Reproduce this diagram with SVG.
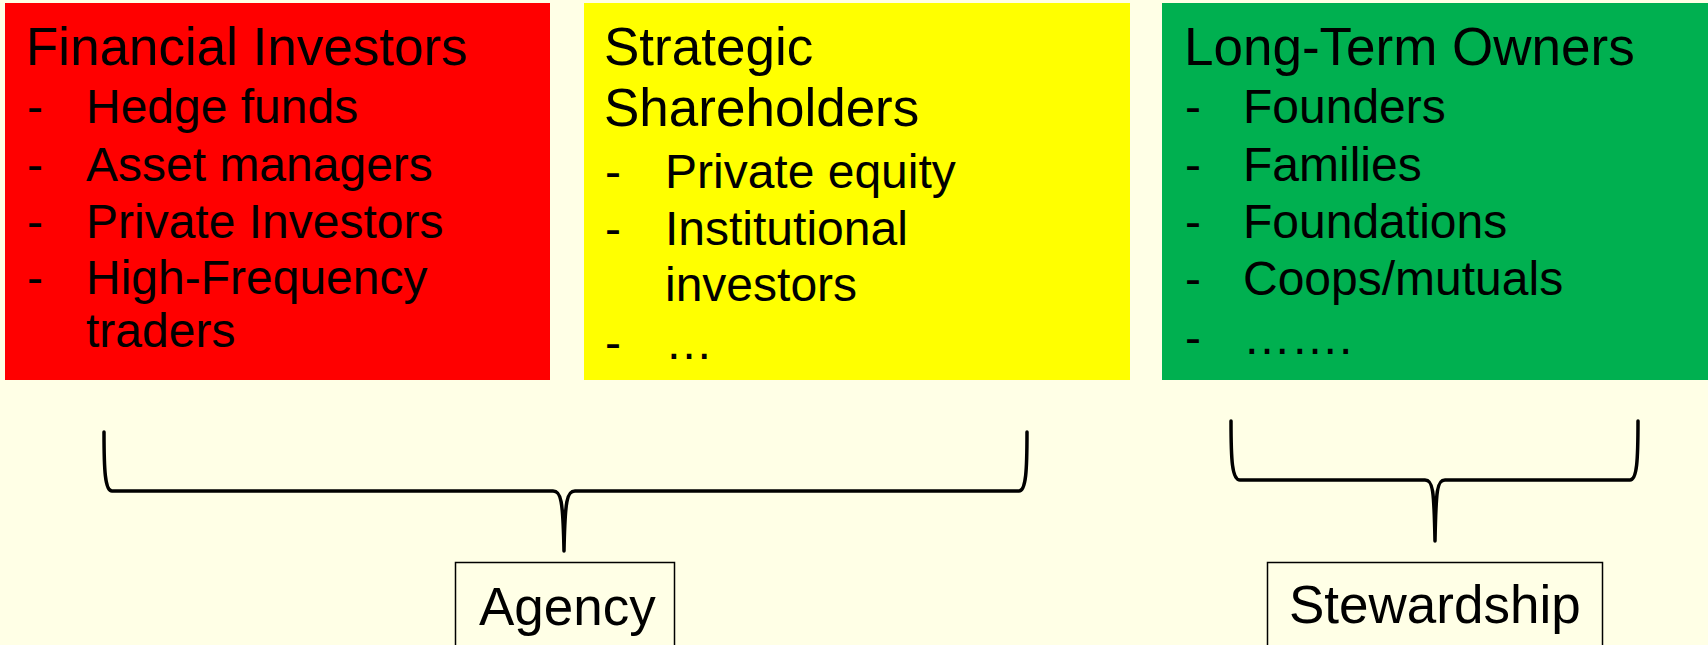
<svg xmlns="http://www.w3.org/2000/svg" width="1708" height="645" viewBox="0 0 1708 645">
  <style>
    text { font-family: "Liberation Sans", Arial, sans-serif; font-size: 53px; fill: #000; }
    text.item { font-size: 48px; }
    .brace { fill: none; stroke: #000; stroke-width: 3.5; stroke-linecap: round; stroke-linejoin: round; }
    .label { fill: none; stroke: #000; stroke-width: 1.5; }
  </style>
  <rect x="0" y="0" width="1708" height="645" fill="#FFFFE6"/>

  <g id="financial-investors">
    <rect x="5" y="3" width="545" height="377" fill="#FF0000"/>
    <text x="26" y="65">Financial Investors</text>
    <text class="item" x="27" y="123">-</text><text class="item" x="86" y="123">Hedge funds</text>
    <text class="item" x="27" y="181">-</text><text class="item" x="86" y="181">Asset managers</text>
    <text class="item" x="27" y="238">-</text><text class="item" x="86" y="238">Private Investors</text>
    <text class="item" x="27" y="294">-</text><text class="item" x="86" y="294">High-Frequency</text>
    <text class="item" x="86" y="347">traders</text>
  </g>

  <g id="strategic-shareholders">
    <rect x="584" y="3" width="546" height="377" fill="#FFFF00"/>
    <text x="604" y="65">Strategic</text>
    <text x="604" y="126">Shareholders</text>
    <text class="item" x="605" y="188">-</text><text class="item" x="665" y="188">Private equity</text>
    <text class="item" x="605" y="245">-</text><text class="item" x="665" y="245">Institutional</text>
    <text class="item" x="665" y="301">investors</text>
    <text class="item" x="605" y="359">-</text><text class="item" x="665" y="359">…</text>
  </g>

  <g id="long-term-owners">
    <rect x="1162" y="3" width="546" height="377" fill="#00B050"/>
    <text x="1184" y="65">Long-Term Owners</text>
    <text class="item" x="1185" y="123">-</text><text class="item" x="1243" y="123">Founders</text>
    <text class="item" x="1185" y="181">-</text><text class="item" x="1243" y="181">Families</text>
    <text class="item" x="1185" y="238">-</text><text class="item" x="1243" y="238">Foundations</text>
    <text class="item" x="1185" y="295">-</text><text class="item" x="1243" y="295">Coops/mutuals</text>
    <text class="item" x="1185" y="354">-</text><text class="item" x="1243" y="354">…….</text>
  </g>

  <g id="connectors">
    <path class="brace" d="M104,432 C104,470 105,491 112,491 L553,491 C561,491 563,500 564,551 C565,500 567,491 575,491 L1019,491 C1026,491 1027,470 1027,432"/>
    <path class="brace" d="M1231,421 C1231,460 1232,480 1240,480 L1425,480 C1433,480 1434,490 1435,541 C1436,490 1437,480 1445,480 L1630,480 C1637,480 1638,460 1638,421"/>
  </g>

  <g id="agency">
    <rect class="label" x="455.5" y="562.5" width="219" height="90"/>
    <text x="479" y="625">Agency</text>
  </g>

  <g id="stewardship">
    <rect class="label" x="1267.5" y="562.5" width="335" height="90"/>
    <text x="1289" y="623">Stewardship</text>
  </g>
</svg>
